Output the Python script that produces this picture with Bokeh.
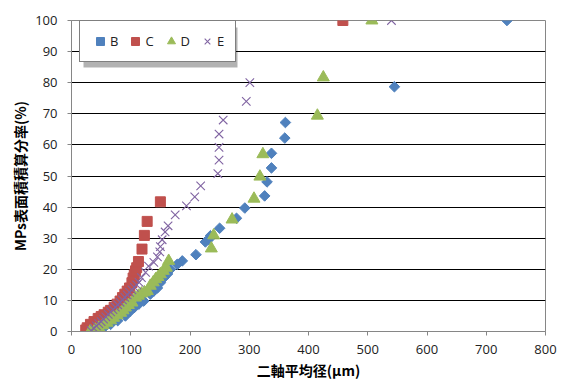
from bokeh.plotting import figure
from bokeh.models import Legend, LegendItem, FixedTicker, Range1d, BoxAnnotation
from bokeh.embed import file_html
from bokeh.resources import INLINE
import math

# ---- data ----
B_x = [43, 54.5, 66, 78, 91, 99.6, 106, 113.6, 122, 133, 139, 145, 150, 156, 162, 167,
       178.5, 187, 210, 226, 231.7, 234.6, 250, 278.5, 292.5, 326, 330, 337.5, 337.5,
       360, 361, 545, 735]
B_y = [0.2, 1.2, 2.3, 3.5, 5, 6.6, 7.7, 8.8, 9.8, 12, 13, 14, 15.7, 17.3, 18.5, 20,
       21.6, 22.7, 24.7, 28.8, 29.6, 30.8, 33.2, 36.4, 39.7, 43.6, 48.1, 52.6, 57.3,
       62.2, 67.2, 78.7, 100]

C_x = [24, 26.5, 32, 38, 45, 50, 55, 62, 66, 72, 77, 82, 86, 90, 94, 98, 102, 104,
       106, 108, 110, 113, 119, 123, 127.7, 150, 458]
C_y = [0.5, 1.2, 2.3, 3.2, 4.2, 4.8, 5.4, 6.2, 6.8, 7.8, 8.8, 9.8, 10.9, 12, 13, 14,
       15.7, 17.2, 18.2, 19.5, 20.5, 22.5, 26.5, 30.9, 35.4, 41.7, 100]

D_x = [32, 40, 46, 53, 60, 66, 71, 77, 83, 87, 91, 96, 102, 108, 113, 118, 123, 128,
       133, 138, 142, 146, 150, 155, 160, 164, 236, 240, 271, 308, 318, 323, 415, 425, 507]
D_y = [0.2, 0.6, 1.2, 2, 2.8, 3.6, 4.4, 5.2, 6, 6.8, 7.7, 8.5, 9.3, 10.9, 11.5, 12.2,
       12.6, 13, 14.7, 15.8, 16.8, 17.5, 18.4, 19.5, 20.5, 22.7, 26.7, 30.9, 36, 42.7,
       49.8, 57, 69.4, 81.7, 100]

E_x = [33, 38, 42, 46, 50, 54, 58, 62, 66, 70, 74, 78, 82, 86, 90, 94, 98, 102, 106,
       110, 114, 118, 125, 130, 139, 145, 149, 150, 153, 158, 163, 175, 194, 208, 218,
       247, 249, 249, 249, 256, 295, 301, 540]
E_y = [0.3, 1, 1.8, 2.5, 3.2, 4, 4.7, 5.5, 6.3, 7, 7.8, 8.6, 9.4, 10.2, 11, 11.8, 12.6,
       13.4, 14.2, 15, 15.8, 17.3, 19, 21, 22.2, 24, 25.6, 27.3, 29.5, 32, 34, 37.5,
       40.4, 43.3, 46.8, 50.8, 55.1, 59.2, 63.5, 68, 74, 80, 100]

x_ticks = [0, 100, 200, 300, 400, 500, 600, 700, 800]
y_ticks = [0, 10, 20, 30, 40, 50, 60, 70, 80, 90, 100]
x_label = "二軸平均径(µm)"
y_label = "MPs表面積積算分率(%)"

col_B = "#4F81BD"
col_C = "#C0504D"
col_D = "#9BBB59"
col_E = "#8064A2"

p = figure(frame_width=474, frame_height=311, output_backend="svg",
           toolbar_location=None, x_range=Range1d(0, 800), y_range=Range1d(0, 100),
           min_border_left=71, min_border_right=16, min_border_top=20,
           min_border_bottom=50)
p.background_fill_color = "white"
p.border_fill_color = "white"
p.outline_line_color = "#868686"
p.outline_line_width = 1

p.xgrid.visible = False
p.ygrid.ticker = FixedTicker(ticks=y_ticks)
p.ygrid.grid_line_color = "black"
p.ygrid.grid_line_width = 1

for ax, ticks in ((p.xaxis[0], x_ticks), (p.yaxis[0], y_ticks)):
    ax.ticker = FixedTicker(ticks=ticks)
    ax.axis_line_color = "#868686"
    ax.major_tick_line_color = "#868686"
    ax.major_tick_in = 0
    ax.major_tick_out = 4
    ax.minor_tick_line_color = None
    ax.major_label_text_font = "Open Sans"
    ax.major_label_text_font_size = "13px"
    ax.major_label_text_color = "#222222"
    ax.axis_label_text_font = "Noto Sans CJK JP"
    ax.axis_label_text_font_style = "bold"
    ax.axis_label_text_font_size = "14px"
    ax.axis_label_text_color = "black"

p.xaxis.axis_label = x_label
p.yaxis.axis_label = y_label
p.xaxis.major_label_standoff = 9
p.yaxis.major_label_standoff = 10
p.xaxis.axis_label_standoff = 3
p.yaxis.axis_label_standoff = 2

# legend drop shadow (frame-relative screen units)
shadow = BoxAnnotation(left=12, right=166, top=304, bottom=264,
                       left_units="screen", right_units="screen",
                       top_units="screen", bottom_units="screen",
                       fill_color="black", fill_alpha=0.3, line_color=None)
p.add_layout(shadow)

rB = p.scatter(B_x, B_y, marker="square", angle=math.pi / 4, size=7.5,
               fill_color=col_B, line_color=col_B)
rC = p.scatter(C_x, C_y, marker="square", size=10, fill_color=col_C, line_color=col_C)
rD = p.scatter(D_x, D_y, marker="triangle", size=12, fill_color=col_D, line_color=col_D)
rE = p.scatter(E_x, E_y, marker="x", size=12, line_color=col_E, line_width=1.1)

legend = Legend(items=[LegendItem(label="B", renderers=[rB]),
                       LegendItem(label="C", renderers=[rC]),
                       LegendItem(label="D", renderers=[rD]),
                       LegendItem(label="E", renderers=[rE])],
                orientation="horizontal", location=(8, 269),
                label_text_font="Open Sans", label_text_font_size="13px",
                label_text_color="#222222",
                glyph_width=20, glyph_height=20, label_standoff=0,
                label_width=8, label_height=12, spacing=7,
                padding=10, margin=0, border_line_color="black", border_line_width=1,
                background_fill_color="white", background_fill_alpha=1.0)
p.add_layout(legend)

open("out.html", "w").write(file_html(p, INLINE))
